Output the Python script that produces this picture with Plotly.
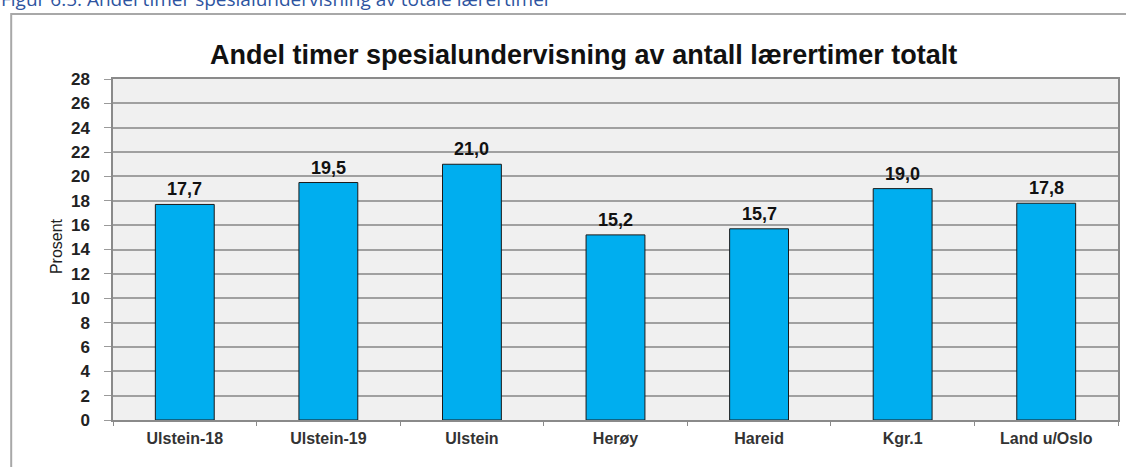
import plotly.graph_objects as go

categories = ["Ulstein-18", "Ulstein-19", "Ulstein", "Herøy", "Hareid", "Kgr.1", "Land u/Oslo"]
values = [17.7, 19.5, 21.0, 15.2, 15.7, 19.0, 17.8]
y_ticks = list(range(0, 29, 2))
title_text = "Andel timer spesialundervisning av antall lærertimer totalt"
caption_text = "Figur 6.5: Andel timer spesialundervisning av totale lærertimer"
y_title = "Prosent"

W, H = 1126, 467
L, R, T, B = 113, 1120, 79, 420
pw, ph = R - L, B - T

def px(x):
    return (x - L) / pw

def py(y):
    return (B - y) / ph

labels = [f"{v:.1f}".replace(".", ",") for v in values]

fig = go.Figure()
fig.add_trace(go.Bar(
    x=categories, y=values,
    marker=dict(color="#00aeef", line=dict(color="#1a1a1a", width=1)),
    width=0.41,
    hoverinfo="x+y",
))

label_annotations = [
    dict(x=c, y=v, xref="x", yref="y", text=t, showarrow=False,
         xanchor="center", yanchor="bottom", yshift=3,
         font=dict(family="Liberation Sans, Arial", size=18, color="#111111", weight="bold"))
    for c, v, t in zip(categories, values, labels)
]

fig.update_layout(
    width=W, height=H,
    margin=dict(l=L, r=W - R, t=T, b=H - B),
    paper_bgcolor="white",
    plot_bgcolor="#f0f0f0",
    showlegend=False,
    font=dict(family="Liberation Sans, Arial", color="#222222"),
    xaxis=dict(
        type="category",
        showline=True, linecolor="#8a8a8a", linewidth=1.5, mirror=True,
        ticks="outside", ticklen=4, tickcolor="#8a8a8a", tickson="boundaries",
        tickfont=dict(family="Liberation Sans, Arial", size=16, color="#333333", weight="bold"),
        ticklabelstandoff=3,
        showgrid=False,
    ),
    yaxis=dict(
        range=[0, 28],
        tickvals=y_ticks,
        showline=True, linecolor="#8a8a8a", linewidth=1.5, mirror=True,
        ticks="outside", ticklen=7, tickcolor="#9a9a9a",
        tickfont=dict(family="Liberation Sans, Arial", size=17, color="#222222", weight="bold"),
        ticklabelstandoff=11,
        showgrid=True, gridcolor="#a0a0a0", gridwidth=1.6,
        zeroline=False,
    ),
    shapes=[dict(
        type="rect", xref="paper", yref="paper",
        x0=px(11), x1=px(1135), y0=py(480), y1=py(14),
        line=dict(color="#a8a8a8", width=2), fillcolor="rgba(0,0,0,0)", layer="below",
    )],
    annotations=[
        dict(text=title_text, xref="paper", yref="paper", x=px(584), y=py(55),
             xanchor="center", yanchor="middle", showarrow=False,
             font=dict(family="Liberation Sans, Arial", size=27, color="#111111", weight="bold")),
        dict(text=caption_text, xref="paper", yref="paper", x=px(-1), y=py(14),
             xanchor="left", yanchor="bottom", showarrow=False,
             font=dict(family="Open Sans", size=19, color="#2e54a0")),
        dict(text=y_title, xref="paper", yref="paper", x=px(56), y=py(246),
             xanchor="center", yanchor="middle", textangle=-90, showarrow=False,
             font=dict(family="Liberation Sans Narrow, Arial Narrow, Liberation Sans", size=16, color="#222222")),
    ] + label_annotations,
)

fig.write_html(
    "out.html",
    config={"displayModeBar": False},
    post_script="document.body.style.margin='0';document.body.style.overflow='hidden';",
)
